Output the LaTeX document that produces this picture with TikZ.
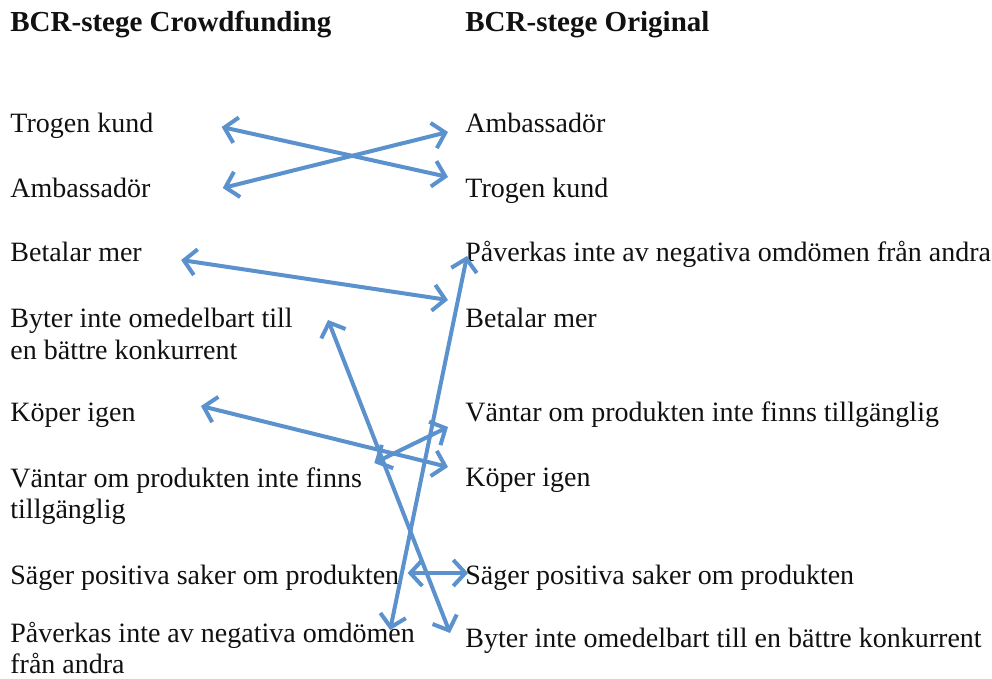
\documentclass[tikz,border=0pt]{standalone}
\usepackage{fontspec}
\setmainfont{Liberation Serif}
\usetikzlibrary{positioning,calc,arrows.meta}
\usepackage{xcolor}
\definecolor{linkblue}{HTML}{5B92CE}
\definecolor{textdark}{HTML}{111111}

\tikzset{
  head/.style={anchor=base west,inner sep=0pt,text=textdark,font=\fontsize{14.5}{17}\selectfont\bfseries},
  item/.style={anchor=base west,inner sep=0pt,text=textdark,font=\fontsize{14}{16}\selectfont,align=left},
  link/.style={{Straight Barb[length=6pt,width=13pt]}-{Straight Barb[length=6pt,width=13pt]},line width=2pt,linkblue}
}

\begin{document}
\begin{tikzpicture}[x=0.5pt,y=-0.5pt]
    \useasboundingbox[fill=white] (0,0) rectangle (992,679);

    % Headers
    \node[head] (hl) at (10,32) {BCR-stege Crowdfunding};
    \node[head] (hr) at (465,32) {BCR-stege Original};

    % Crowdfunding ladder (multi-line nodes sit on their last line)
    \node[item] (lt1) at (10,133) {Trogen kund};
    \node[item] (lt2) at (10,198) {Ambassadör};
    \node[item] (lt3) at (10,262) {Betalar mer};
    \node[item] (lt4) at (10,360) {Byter inte omedelbart till\\en bättre konkurrent};
    \node[item] (lt5) at (10,422) {Köper igen};
    \node[item] (lt6) at (10,519) {Väntar om produkten inte finns\\tillgänglig};
    \node[item] (lt7) at (10,585) {Säger positiva saker om produkten};
    \node[item] (lt8) at (10,674) {Påverkas inte av negativa omdömen\\från andra};

    % Original ladder
    \node[item] (rt1) at (465,133) {Ambassadör};
    \node[item] (rt2) at (465,198) {Trogen kund};
    \node[item] (rt3) at (465,262) {Påverkas inte av negativa omdömen från andra};
    \node[item] (rt4) at (465,328) {Betalar mer};
    \node[item] (rt5) at (465,422) {Väntar om produkten inte finns tillgänglig};
    \node[item] (rt6) at (465,487) {Köper igen};
    \node[item] (rt7) at (465,585) {Säger positiva saker om produkten};
    \node[item] (rt8) at (465,647) {Byter inte omedelbart till en bättre konkurrent};

    % Links between the ladders
    \draw[link] ($(lt1.base east)+(68,-6)$) -- ($(rt2.base west)+(-17,-21)$);
    \draw[link] ($(lt2.base east)+(72,-10)$) -- ($(rt1.base west)+(-17,-1)$);
    \draw[link] ($(lt3.base east)+(39,-2)$) -- ($(rt4.base west)+(-17,-28)$);
    \draw[link] ($(lt4.base east)+(35,-40)$) -- ($(rt8.base west)+(-15,-14)$);
    \draw[link] ($(lt5.base east)+(65,-16)$) -- ($(rt6.base west)+(-17,-20)$);
    \draw[link] ($(lt6.base east)+(12,-56)$) -- ($(rt5.base west)+(-17,5)$);
    \draw[link] ($(lt7.base east)+(8,-12)$) -- ($(rt7.base west)+(3,-12)$);
    \draw[link] ($(lt8.base east)+(-25,-44)$) -- ($(rt3.base west)+(2,-6)$);
  \end{tikzpicture}
\end{document}
